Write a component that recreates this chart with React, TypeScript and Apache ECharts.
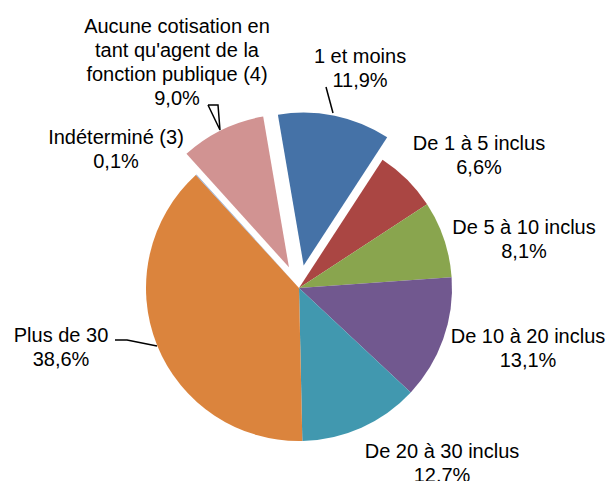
import React, { useEffect, useRef } from 'react';
import * as echarts from 'echarts';

const categories = [
  '1 et moins',
  'De 1 à 5 inclus',
  'De 5 à 10 inclus',
  'De 10 à 20 inclus',
  'De 20 à 30 inclus',
  'Plus de 30',
  'Indéterminé (3)',
  "Aucune cotisation en\ntant qu'agent de la\nfonction publique (4)",
];
const values = [11.9, 6.6, 8.1, 13.1, 12.7, 38.6, 0.1, 9.0];
const percentLabels = ['11,9%', '6,6%', '8,1%', '13,1%', '12.7%', '38,6%', '0,1%', '9,0%'];
const colors = ['#4572A7', '#AA4643', '#89A54E', '#71588F', '#4198AF', '#DB843D', '#93A9CF', '#D19392'];
const exploded = [true, false, false, false, false, false, false, true];
const showLeader = [true, false, false, false, false, true, false, true];

// layout
const CX = 299;
const CY = 288;
const R = 153;
const START_DEG = -9.7; // clockwise from 12 o'clock
const EXPLODE = 23;
const labelPos: [number, number][] = [
  [360, 68], [479, 155], [524, 239], [528, 348], [442, 463], [61, 347], [116, 149], [177, 62],
];
const leaderPoints: ([number, number][] | null)[] = [
  [[326, 87], [333, 113]],
  null, null, null, null,
  [[115, 340], [127, 340], [157, 346]],
  null,
  [[208, 105], [218, 105], [220, 130], [208, 105]],
];

const FONT = "'Liberation Sans', Arial, sans-serif";
const CLEAR = 'rgba(0,0,0,0)';

function midAngleRad(i: number) {
  const total = values.reduce((a, b) => a + b, 0);
  const before = values.slice(0, i).reduce((a, b) => a + b, 0);
  const deg = START_DEG + ((before + values[i] / 2) / total) * 360;
  return (deg * Math.PI) / 180;
}

export default function App() {
  const ref = useRef<HTMLDivElement>(null);
  useEffect(() => {
    document.body.style.margin = '0';
    const chart = echarts.init(ref.current!, null, { renderer: 'svg' });
    const common = {
      type: 'pie',
      radius: R,
      startAngle: 90 - START_DEG,
      clockwise: true,
      avoidLabelOverlap: false,
      emphasis: { disabled: true },
      itemStyle: { borderWidth: 0 },
    };
    const explodedSeries = exploded
      .map((ex, i) => ({ ex, i }))
      .filter((o) => o.ex)
      .map(({ i }) => {
        const a = midAngleRad(i);
        return {
          ...common,
          silent: true,
          center: [CX + EXPLODE * Math.sin(a), CY - EXPLODE * Math.cos(a)],
          label: { show: false },
          labelLine: { show: false },
          data: categories.map((name, j) => ({
            name,
            value: values[j],
            itemStyle: { color: j === i ? colors[j] : CLEAR },
          })),
        };
      });
    chart.setOption({
      animation: false,
      backgroundColor: '#ffffff',
      series: [
        {
          ...common,
          center: [CX, CY],
          label: {
            show: true,
            position: 'outside',
            color: '#000',
            fontFamily: FONT,
            fontSize: 20,
            lineHeight: 24,
            align: 'center',
            formatter: (p: any) => `${p.name}\n${percentLabels[p.dataIndex]}`,
          },
          labelLine: { show: false, lineStyle: { color: '#000', width: 1.5 } },
          labelLayout: (p: any) => {
            const i = p.dataIndex;
            const res: any = {
              x: labelPos[i][0],
              y: labelPos[i][1],
              align: 'center',
              verticalAlign: 'middle',
            };
            if (leaderPoints[i]) res.labelLinePoints = leaderPoints[i];
            return res;
          },
          data: categories.map((name, i) => ({
            name,
            value: values[i],
            itemStyle: { color: exploded[i] ? CLEAR : colors[i] },
            labelLine: { show: showLeader[i], lineStyle: { color: '#000', width: 1.5 } },
          })),
        },
        ...explodedSeries,
      ],
    });
    return () => chart.dispose();
  }, []);
  return <div ref={ref} style={{ width: 613, height: 481 }} />;
}
